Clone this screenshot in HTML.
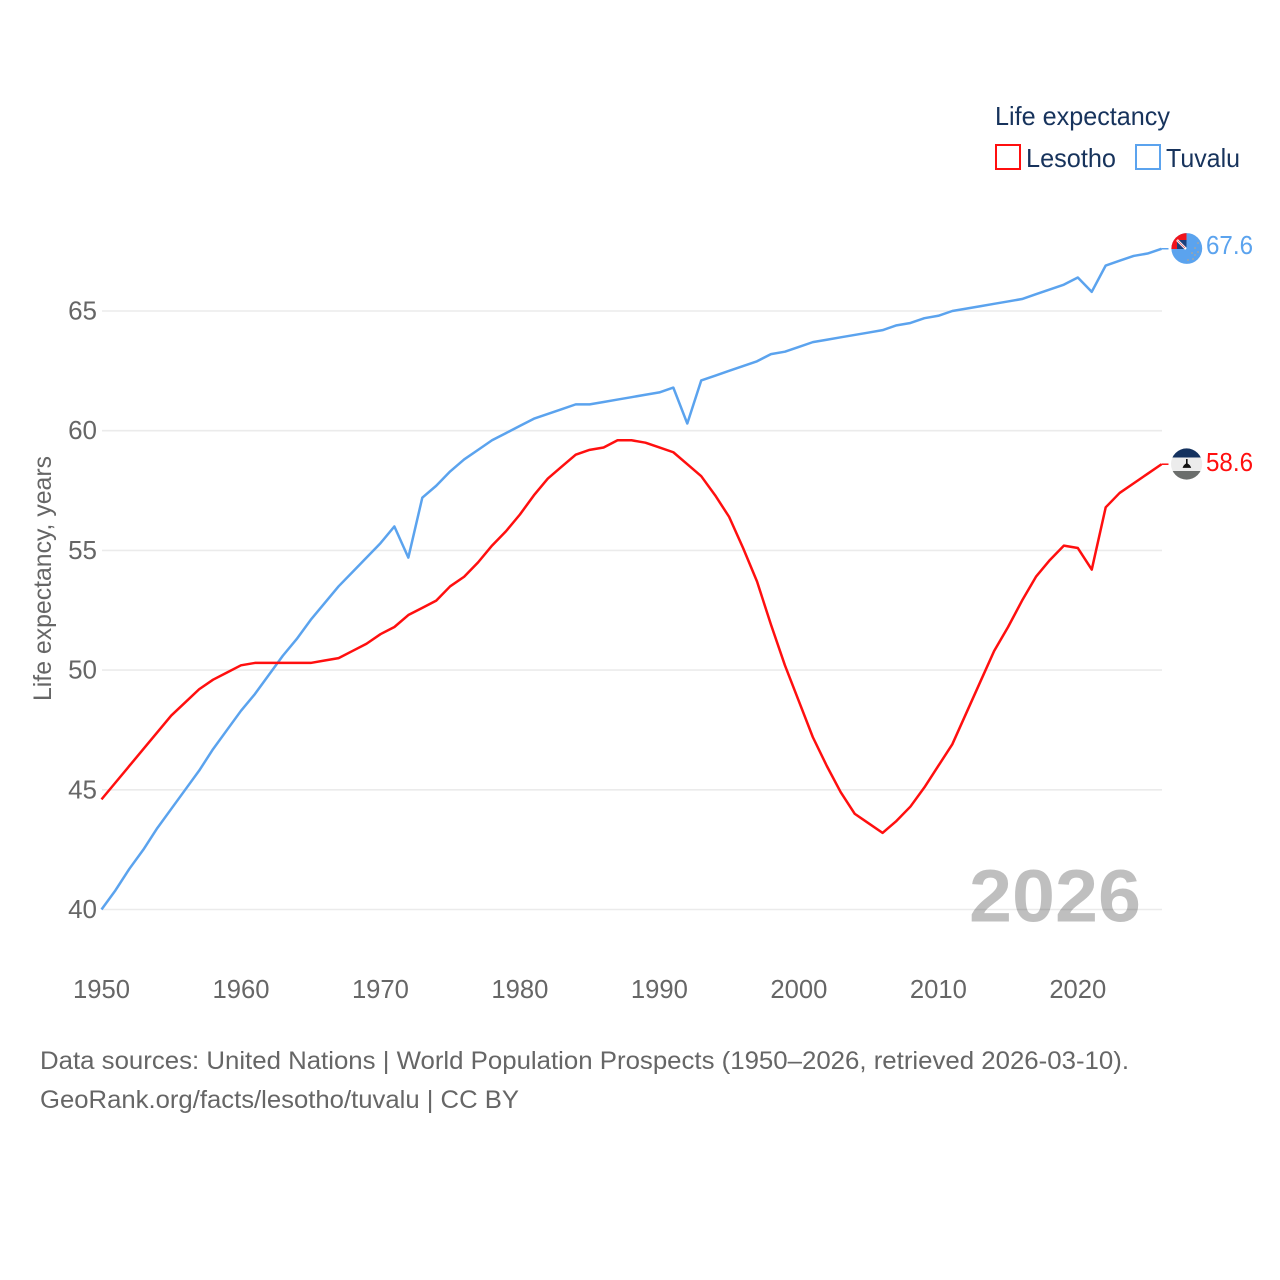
<!DOCTYPE html>
<html>
<head>
<meta charset="utf-8">
<style>
html,body{margin:0;padding:0;background:#fff;}
svg{display:block;}
text{font-family:"Liberation Sans",sans-serif;}
</style>
</head>
<body>
<svg id="chart" width="1280" height="1280" viewBox="0 0 1280 1280" xmlns="http://www.w3.org/2000/svg">
<defs>
<clipPath id="clip-tv"><circle cx="1186.8" cy="248.5" r="15.4"/></clipPath>
<clipPath id="clip-ls"><circle cx="1186.6" cy="464" r="15.6"/></clipPath>
</defs>
<g id="grid"></g>
<g id="yticks"></g>
<g id="xticks"></g>
<text transform="translate(51,701) rotate(-90)" font-size="25" fill="#666" textLength="245" lengthAdjust="spacingAndGlyphs">Life expectancy, years</text>
<text x="969" y="921.5" font-size="74" font-weight="700" fill="#000" fill-opacity="0.25" textLength="172" lengthAdjust="spacingAndGlyphs">2026</text>
<g id="series"></g>
<g clip-path="url(#clip-tv)">
<rect x="1171" y="233" width="32" height="32" fill="#5ba3ee"/>
<rect x="1171" y="233" width="15.5" height="16" fill="#f0141c"/>
<rect x="1177" y="240" width="9.5" height="9" fill="#1d3f7a"/>
<path d="M1177 240L1186 249" stroke="#fff" stroke-width="2.5"/>
<path d="M1177.5 240.5L1185 248" stroke="#e8555a" stroke-width="0.8"/>
<g fill="#e9a65a" fill-opacity="0.75">
<circle cx="1198" cy="243" r="0.8"/><circle cx="1195" cy="248" r="0.8"/><circle cx="1198" cy="252" r="0.8"/><circle cx="1192" cy="253" r="0.8"/><circle cx="1195" cy="255" r="0.8"/><circle cx="1188" cy="260" r="0.8"/><circle cx="1193" cy="259" r="0.8"/>
</g>
</g>
<g clip-path="url(#clip-ls)">
<rect x="1171" y="448" width="32" height="9.5" fill="#14325f"/>
<rect x="1171" y="457.5" width="32" height="13.5" fill="#ececec"/>
<rect x="1171" y="471" width="32" height="10" fill="#6b6e6c"/>
<path d="M1186 459h1.6v4.5c1.5.8 3 2.2 3.6 4.4h-8.6c.6-2.2 2-3.6 3.4-4.4z" fill="#111"/>
</g>
<text x="1206" y="254" font-size="26" fill="#5ba3ee" textLength="47" lengthAdjust="spacingAndGlyphs">67.6</text>
<text x="1206" y="471" font-size="26" fill="#ff0f0f" textLength="47" lengthAdjust="spacingAndGlyphs">58.6</text>
<g>
<text x="995" y="125" font-size="26" fill="#17335c" textLength="175" lengthAdjust="spacingAndGlyphs">Life expectancy</text>
<rect x="996" y="145" width="24" height="24" fill="none" stroke="#ff0f0f" stroke-width="2"/>
<text x="1026" y="167" font-size="26" fill="#17335c" textLength="90" lengthAdjust="spacingAndGlyphs">Lesotho</text>
<rect x="1136" y="145" width="24" height="24" fill="none" stroke="#5ba3ee" stroke-width="2"/>
<text x="1166" y="167" font-size="26" fill="#17335c" textLength="74" lengthAdjust="spacingAndGlyphs">Tuvalu</text>
</g>
<text x="40" y="1069" font-size="25" fill="#666" textLength="1089" lengthAdjust="spacingAndGlyphs">Data sources: United Nations | World Population Prospects (1950–2026, retrieved 2026-03-10).</text>
<text x="40" y="1108" font-size="25" fill="#666" textLength="479" lengthAdjust="spacingAndGlyphs">GeoRank.org/facts/lesotho/tuvalu | CC BY</text>
</svg>
<script>
const startYear = 1950;
const yTickValues = [40, 45, 50, 55, 60, 65];
const xTickValues = [1950, 1960, 1970, 1980, 1990, 2000, 2010, 2020];
const lesothoValues = [44.6,45.3,46.0,46.7,47.4,48.1,48.65,49.2,49.6,49.9,50.2,50.3,50.3,50.3,50.3,50.3,50.4,50.5,50.8,51.1,51.5,51.8,52.3,52.6,52.9,53.5,53.9,54.5,55.2,55.8,56.5,57.3,58.0,58.5,59.0,59.2,59.3,59.6,59.6,59.5,59.3,59.1,58.6,58.1,57.3,56.4,55.1,53.7,51.9,50.2,48.7,47.2,46.0,44.9,44.0,43.6,43.2,43.7,44.3,45.1,46.0,46.9,48.2,49.5,50.8,51.8,52.9,53.9,54.6,55.2,55.1,54.2,56.8,57.4,57.8,58.2,58.6];
const tuvaluValues = [40.0,40.8,41.7,42.5,43.4,44.2,45.0,45.8,46.7,47.5,48.3,49.0,49.8,50.6,51.3,52.1,52.8,53.5,54.1,54.7,55.3,56.0,54.7,57.2,57.7,58.3,58.8,59.2,59.6,59.9,60.2,60.5,60.7,60.9,61.1,61.1,61.2,61.3,61.4,61.5,61.6,61.8,60.3,62.1,62.3,62.5,62.7,62.9,63.2,63.3,63.5,63.7,63.8,63.9,64.0,64.1,64.2,64.4,64.5,64.7,64.8,65.0,65.1,65.2,65.3,65.4,65.5,65.7,65.9,66.1,66.4,65.8,66.9,67.1,67.3,67.4,67.6];

const NS = 'http://www.w3.org/2000/svg';
function xScale(year) { return 101.5 + (year - 1950) * (1161.5 - 101.5) / 76; }
function yScale(v) { return 909.5 - (v - 40) * 23.94; }
function make(tag, attrs, parent) {
  const el = document.createElementNS(NS, tag);
  for (const k in attrs) el.setAttribute(k, attrs[k]);
  parent.appendChild(el);
  return el;
}
const grid = document.getElementById('grid');
const yticks = document.getElementById('yticks');
const xticks = document.getElementById('xticks');
const seriesGroup = document.getElementById('series');

yTickValues.forEach(function (v) {
  const line = make('line', {x1: 102, x2: 1162, y1: yScale(v), y2: yScale(v), stroke: '#ebebeb', 'stroke-width': 1.6}, grid);
  
  
  const label = make('text', {x: 97, y: yScale(v) + 8.5, 'text-anchor': 'end', 'font-size': 26, fill: '#666'}, yticks);
  label.textContent = String(v);
  
  
});
xTickValues.forEach(function (y) {
  const label = make('text', {x: xScale(y), y: 998, 'text-anchor': 'middle', 'font-size': 26, fill: '#666', textLength: 57, lengthAdjust: 'spacingAndGlyphs'}, xticks);
  label.textContent = String(y);
  
  
});
function drawSeries(values, color, name) {
  const pts = values.map(function (v, i) { return xScale(startYear + i).toFixed(2) + ',' + yScale(v).toFixed(2); });
  const line = make('polyline', {points: pts.join(' '), fill: 'none', stroke: color, 'stroke-width': 2.5, 'stroke-linejoin': 'round'}, seriesGroup);
  
  
  const last = values[values.length - 1];
  const tail = make('line', {x1: xScale(startYear + values.length - 1), x2: 1168.5, y1: yScale(last), y2: yScale(last), stroke: color, 'stroke-width': 1.5}, seriesGroup);
  
  
}
drawSeries(tuvaluValues, '#5ba3ee', 'tuvalu-line');
drawSeries(lesothoValues, '#ff0f0f', 'lesotho-line');
</script>
</body>
</html>
